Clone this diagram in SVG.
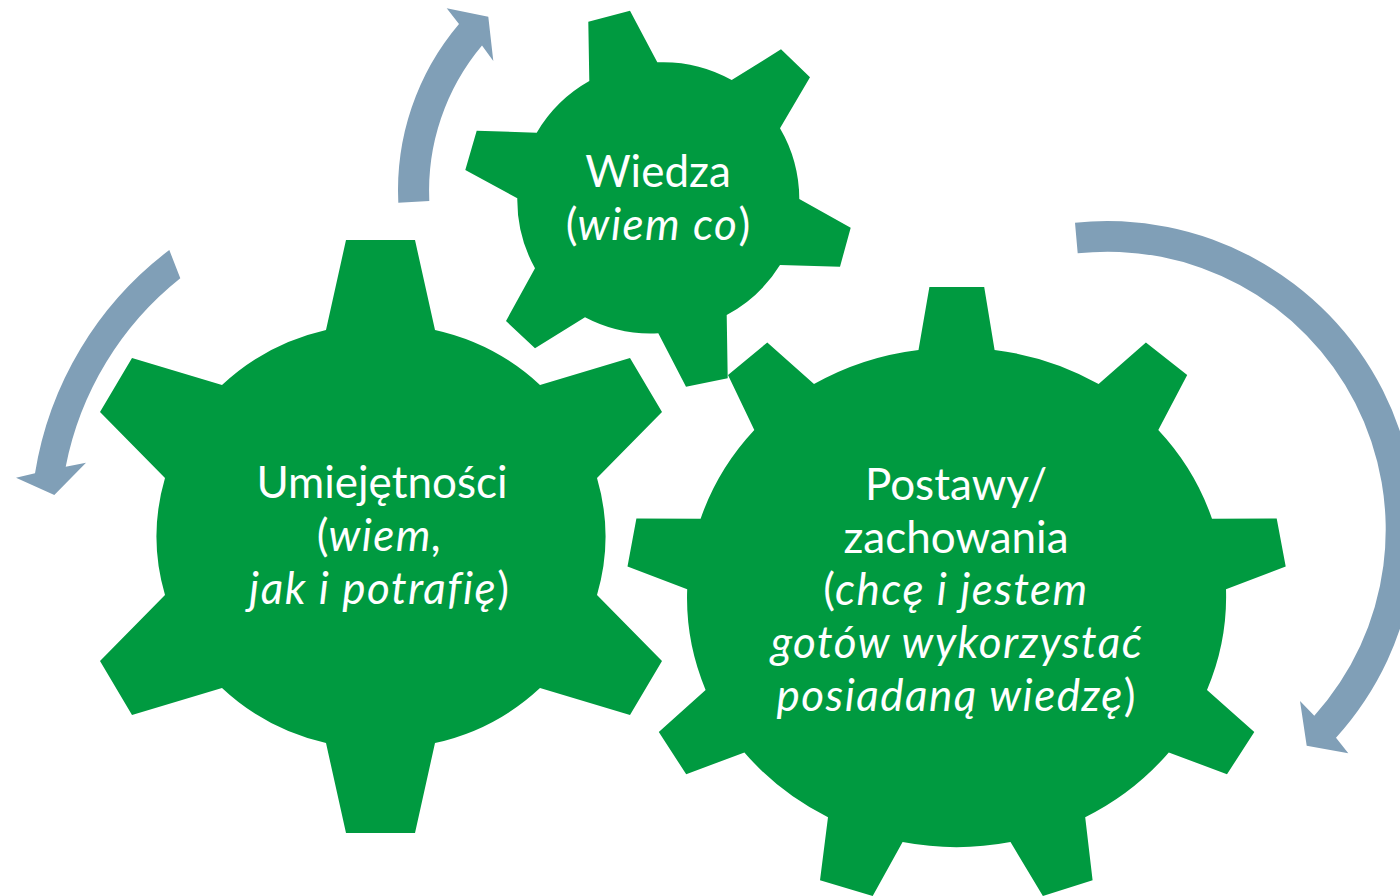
<svg xmlns="http://www.w3.org/2000/svg" width="1400" height="896" viewBox="0 0 1400 896">
  <style>
    .gear { fill: #009A40; }
    .arrow { fill: #809FB7; }
    .lbl { font-family: "Lato", "Open Sans", sans-serif; font-size: 44px; fill: #FFFFFF; text-anchor: middle; }
    .it { font-style: italic; letter-spacing: 1.5px; }
  </style>
  <rect width="1400" height="896" fill="#FFFFFF"/>

  <g id="gear-umiejetnosci">
    <path class="gear" d="M 346,240 L 415,240 L 435,330 A 223 215 0 0 1 540,385 L 630,358 L 662,412 L 597,478 A 223 215 0 0 1 597,595 L 662,661 L 630,715 L 540,688 A 223 215 0 0 1 435,743 L 415,833 L 346,833 L 326,743 A 223 215 0 0 1 222,688 L 132,715 L 100,661 L 165,595 A 223 215 0 0 1 165,478 L 100,412 L 132,358 L 222,385 A 223 215 0 0 1 326,330 Z"/>
    <text class="lbl" x="382" y="498">Umiejętności</text>
    <text class="lbl" x="380" y="551">(<tspan class="it">wiem,</tspan></text>
    <text class="lbl" x="379" y="604"><tspan class="it">jak i potrafię</tspan>)</text>
  </g>

  <g id="gear-wiedza">
    <path class="gear" d="M 589.3,81 L 588.3,21.7 L 630,10.7 L 657.3,62.3 A 141 141 0 0 1 731.7,80 L 781,49.3 L 810,77.3 L 780,128.3 A 141 141 0 0 1 799.3,199 L 850.7,227.7 L 840,266.7 L 780,265 A 141 141 0 0 1 726.7,315 L 727.7,378.3 L 686,386.7 L 658.3,333.3 A 141 141 0 0 1 585,317.3 L 535,348.3 L 506,321 L 535,268.3 A 141 141 0 0 1 517.3,198.3 L 465.3,170 L 476.7,130.7 L 536.7,132.7 A 141 141 0 0 1 589.3,81 Z"/>
    <text class="lbl" x="658" y="187">Wiedza</text>
    <text class="lbl" x="658" y="240">(<tspan class="it">wiem co</tspan>)</text>
  </g>

  <g id="gear-postawy">
    <path class="gear" d="M 929.4,287 L 984.2,287 L 994.6,350 A 270 252 0 0 1 1098.6,384.1 L 1145.9,342.5 L 1187.2,374.9 L 1158.3,430 A 270 252 0 0 1 1212,518.8 L 1276.7,518.4 L 1285.7,566.5 L 1226,589.3 A 270 252 0 0 1 1207,689.9 L 1254.3,731.9 L 1227,774.3 L 1168.8,752.4 A 270 252 0 0 1 1085.2,817.2 L 1092.6,880.2 L 1042.9,896 L 1010.5,842.1 A 270 252 0 0 1 902.6,842.1 L 872.7,896 L 820,880.2 L 828,817.2 A 270 252 0 0 1 744.4,752.4 L 686.2,774.3 L 658.8,731.9 L 705.6,689.9 A 270 252 0 0 1 687.2,589.3 L 627.5,566.5 L 636.4,518.4 L 700.6,518.8 A 270 252 0 0 1 754.3,430 L 728,374.9 L 767.3,342.5 L 814,384.1 A 270 252 0 0 1 918.5,350 Z"/>
    <text class="lbl" x="956" y="500">Postawy/</text>
    <text class="lbl" x="956" y="553">zachowania</text>
    <text class="lbl" x="956" y="605">(<tspan class="it">chcę i jestem</tspan></text>
    <text class="lbl" x="957" y="658"><tspan class="it">gotów wykorzystać</tspan></text>
    <text class="lbl" x="956" y="711"><tspan class="it">posiadaną wiedzę</tspan>)</text>
  </g>

  <g id="connectors">
    <path class="arrow" d="M 398.3,202.7 A 257 257 0 0 1 459,24 L 446.7,8.3 L 488.3,16.7 L 493.3,61 L 482,45.5 A 226 226 0 0 0 429.3,201 Z"/>
    <path class="arrow" d="M 169.3,250 A 349 349 0 0 0 35,473.3 L 16,477.7 L 54.3,495 L 86,462.7 L 65.7,466.7 A 319 319 0 0 1 180.3,278.3 Z"/>
    <path class="arrow" d="M 1075,222.7 A 309 309 0 0 1 1336,737.7 L 1348.3,753.3 L 1306.7,745.7 L 1300,701 L 1314.3,715.7 A 278 278 0 0 0 1077.7,253.3 Z"/>
  </g>
</svg>
